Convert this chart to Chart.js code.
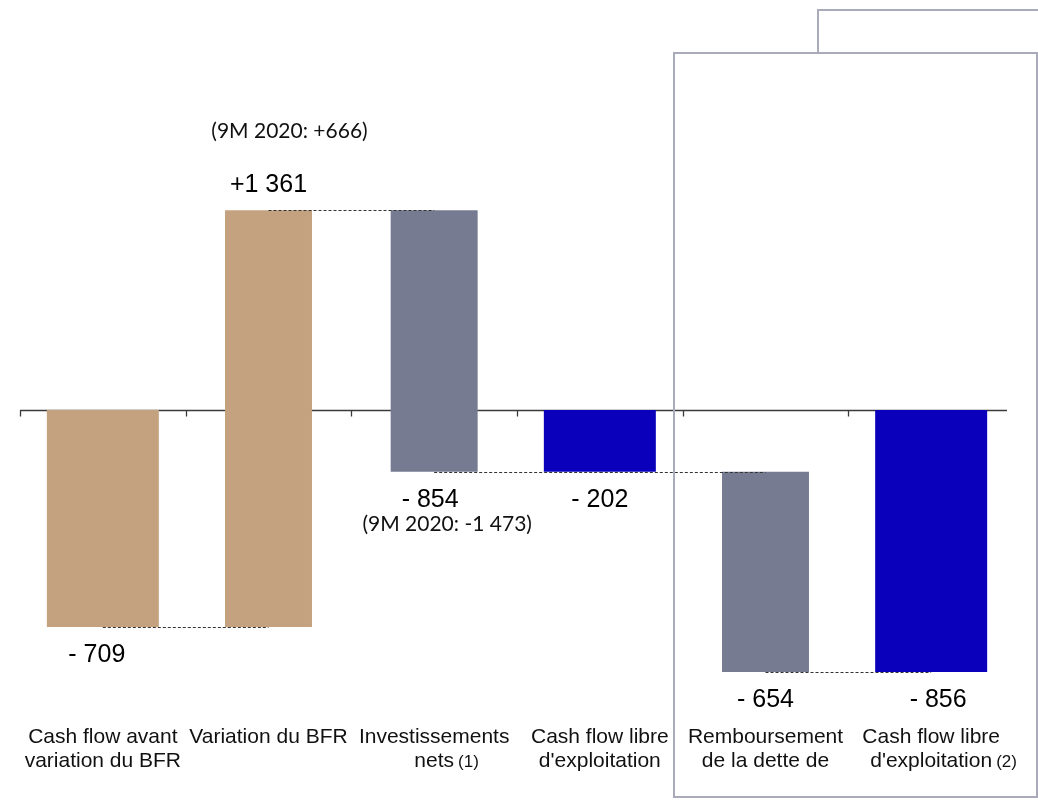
<!DOCTYPE html>
<html>
<head>
<meta charset="utf-8">
<script src="https://cdn.jsdelivr.net/npm/chart.js@4.4.1/dist/chart.umd.min.js"></script>
<style>
  html, body { margin: 0; padding: 0; background: #ffffff; }
  #wrap { width: 1038px; height: 800px; position: relative; }
</style>
</head>
<body>
<div id="wrap"><canvas id="cashflow" width="1038" height="800"></canvas></div>
<script>
// Cash flow bridge, 9M 2021 (M EUR)
const categories = [
  ["Cash flow avant", "variation du BFR"],
  ["Variation du BFR"],
  ["Investissements", "nets"],
  ["Cash flow libre", "d'exploitation"],
  ["Remboursement", "de la dette de"],
  ["Cash flow libre", "d'exploitation"]
];
const footnotes = ["", "", "(1)", "", "", "(2)"];
const values = [-709, 1361, -854, -202, -654, -856];
const barKinds = ["total", "delta", "delta", "total", "delta", "total"];
const priorYear = ["", "(9M 2020: +666)", "(9M 2020: -1 473)", "", "", ""];

// styling
const TAN = "#C4A27F", SLATE = "#767B92", BLUE = "#0A00BB";
const barColors = [TAN, TAN, SLATE, BLUE, SLATE, BLUE];
const labelNudge = [-6, 0, -4, 0, 0, 7];
const noteNudge = [0, 21, 13, 0, 0, 0];
const FRAME = "#A9ABBB";

// floating ranges: totals start at zero, deltas continue from the running level
const ranges = [];
const levels = [];
let running = 0;
values.forEach((v, i) => {
  if (barKinds[i] === "total") {
    ranges.push([0, v]);
    running = v;
  } else {
    ranges.push([running, running + v]);
    running += v;
  }
  levels.push(running);
});

function formatValue(v) {
  const s = Math.abs(v).toString().replace(/\B(?=(\d{3})+(?!\d))/g, " ");
  return v > 0 ? "+" + s : "- " + s;
}

const LABEL_FONT = "Liberation Sans, Arial, sans-serif";

const bridgePlugin = {
  id: "bridge",
  beforeDatasetsDraw(chart) {
    const { ctx, chartArea, scales: { x, y } } = chart;
    const y0 = Math.round(y.getPixelForValue(0)) + 0.5;
    const step = x.getPixelForValue(1) - x.getPixelForValue(0);
    ctx.save();
    ctx.strokeStyle = "#3a3a3a";
    ctx.lineWidth = 1.3;
    ctx.beginPath();
    ctx.moveTo(chartArea.left, y0);
    ctx.lineTo(chartArea.right - 7, y0);
    for (let i = 0; i < categories.length; i++) {
      const tx = Math.round(x.getPixelForValue(i) - step / 2) + 0.5;
      ctx.moveTo(tx, y0);
      ctx.lineTo(tx, y0 + 6);
    }
    ctx.stroke();
    ctx.restore();
  },
  afterDatasetsDraw(chart) {
    const { ctx, scales: { x, y } } = chart;
    ctx.save();
    ctx.strokeStyle = "#333333";
    ctx.lineWidth = 1;
    ctx.setLineDash([3, 2]);
    for (let i = 0; i < values.length - 1; i++) {
      const ly = Math.round(y.getPixelForValue(levels[i])) + 0.5;
      ctx.beginPath();
      ctx.moveTo(x.getPixelForValue(i), ly);
      ctx.lineTo(x.getPixelForValue(i + 1), ly);
      ctx.stroke();
    }
    ctx.restore();
  },
  afterDraw(chart) {
    const { ctx, chartArea, scales: { x, y } } = chart;
    ctx.save();
    ctx.fillStyle = "#000000";
    ctx.textBaseline = "alphabetic";

    // value labels and prior-year comparisons
    values.forEach((v, i) => {
      const cx = x.getPixelForValue(i);
      const [a, b] = ranges[i];
      let base;
      if (v > 0) {
        base = y.getPixelForValue(Math.max(a, b)) - 18;
      } else {
        base = y.getPixelForValue(Math.min(a, b)) + 35;
      }
      ctx.font = "25px " + LABEL_FONT;
      ctx.textAlign = "center";
      ctx.fillText(formatValue(v), cx + labelNudge[i], base);
      if (priorYear[i]) {
        ctx.font = "21px Lato, 'Open Sans', sans-serif";
        ctx.fillStyle = "#111111";
        const nb = v > 0 ? base - 54 : base + 24;
        ctx.fillText(priorYear[i], cx + noteNudge[i], nb);
        ctx.fillStyle = "#000000";
      }
    });

    // category labels
    categories.forEach((lines, i) => {
      const cx = x.getPixelForValue(i);
      lines.forEach((line, j) => {
        const base = chartArea.bottom + 27 + j * 24;
        ctx.font = "21px " + LABEL_FONT;
        ctx.textAlign = "center";
        ctx.fillStyle = "#111111";
        ctx.fillText(line, cx, base);
        if (j === lines.length - 1 && footnotes[i]) {
          const w = ctx.measureText(line).width;
          ctx.font = "17px " + LABEL_FONT;
          ctx.textAlign = "left";
          ctx.fillText(footnotes[i], cx + w / 2 + 4, base);
        }
      });
    });

    // side panel framing the last two columns
    ctx.strokeStyle = FRAME;
    ctx.lineWidth = 2;
    ctx.beginPath();
    ctx.rect(674, 53, 363, 744);
    ctx.moveTo(818, 53);
    ctx.lineTo(818, 10);
    ctx.lineTo(1040, 10);
    ctx.stroke();
    ctx.restore();
  }
};

new Chart(document.getElementById("cashflow"), {
  type: "bar",
  data: {
    labels: categories,
    datasets: [
      {
        label: "Totaux",
        data: ranges.map((r, i) => barKinds[i] === "total" ? r : null),
        backgroundColor: barColors,
        borderWidth: 0,
        grouped: false,
        categoryPercentage: 1,
        barPercentage: 0.676
      },
      {
        label: "Variations",
        data: ranges.map((r, i) => barKinds[i] === "delta" ? r : null),
        backgroundColor: barColors,
        borderWidth: 0,
        grouped: false,
        categoryPercentage: 1,
        barPercentage: 0.525
      }
    ]
  },
  options: {
    responsive: false,
    animation: false,
    layout: { padding: { left: 20, right: 24, top: 12, bottom: 84 } },
    plugins: { legend: { display: false }, tooltip: { enabled: false } },
    scales: {
      x: { display: false, offset: true },
      y: { display: false, min: -1000, max: 1300 }
    }
  },
  plugins: [bridgePlugin]
});
</script>
</body>
</html>
